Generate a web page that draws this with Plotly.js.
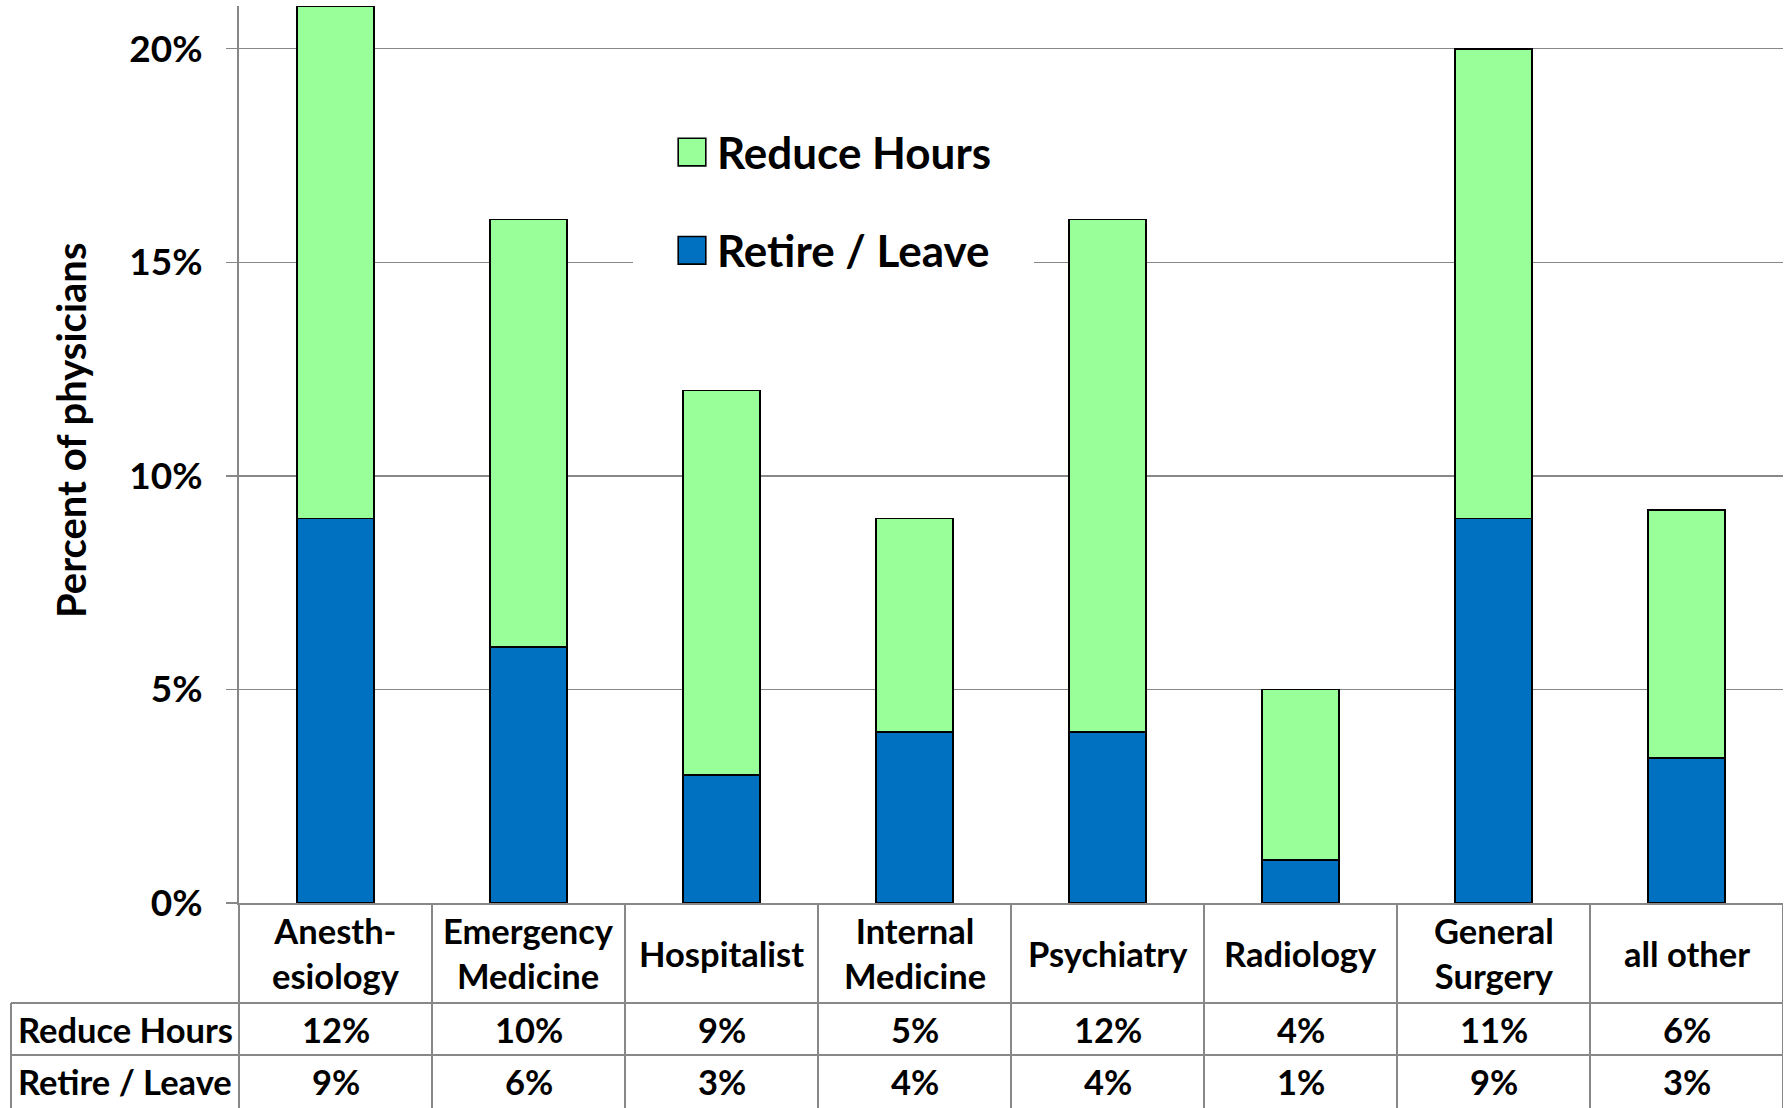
<!DOCTYPE html>
<html>
<head>
<meta charset="utf-8">
<script src="https://cdn.plot.ly/plotly-3.0.1.min.js"></script>
<style>
  html, body { margin: 0; padding: 0; background: #ffffff; }
  #chart { width: 1790px; height: 1108px; }
</style>
</head>
<body>
<div id="chart"></div>
<script>
// ---- data ----
const categories = ['Anesthesiology', 'Emergency Medicine', 'Hospitalist', 'Internal Medicine',
                    'Psychiatry', 'Radiology', 'General Surgery', 'all other'];
const categoryLabels = ['Anesth-<br>esiology', 'Emergency<br>Medicine', 'Hospitalist', 'Internal<br>Medicine',
                        'Psychiatry', 'Radiology', 'General<br>Surgery', 'all other'];
const reduceHours = [12, 10, 9, 5, 12, 4, 11, 5.8];
const retireLeave = [9, 6, 3, 4, 4, 1, 9, 3.4];
const seriesNames = ['Reduce Hours', 'Retire / Leave'];
const yTickValues = [0, 5, 10, 15, 20];
const yTickLabels = ['0%', '5%', '10%', '15%', '20%'];
const yAxisTitle = 'Percent of physicians';

// ---- layout geometry (pixels) ----
const W = 1790, H = 1108;
const M = { l: 239, r: 7, t: 6, b: 205 };
const plotH = H - M.t - M.b;
const plotW = W - M.l - M.r;
const py = p => (H - M.b - p) / plotH;      // pixel y -> paper y
const px = p => (p - M.l) / plotW;          // pixel x -> paper x

const FONT = 'Lato, "Open Sans", sans-serif';
const GRID = '#888888';
const GREEN = '#99ff99';
const BLUE = '#0070c0';

const rowY = [py(1029), py(1081)];
const rowLines = [1003, 1055];
const tableLeft = 11;
const catRowMid = 953;

const traces = [
  {
    type: 'bar', name: seriesNames[1], x: categories, y: retireLeave,
    marker: { color: BLUE, line: { color: '#000000', width: 1.6 } },
    legendgroup: 'retire', legendrank: 2, hoverinfo: 'skip'
  },
  {
    type: 'bar', name: seriesNames[0], x: categories, y: reduceHours,
    marker: { color: GREEN, line: { color: '#000000', width: 1.6 } },
    legendgroup: 'reduce', legendrank: 1, hoverinfo: 'skip'
  }
];

const shapes = [];
const lineStyle = { color: GRID, width: 2 };
// white backdrop of the legend (hides gridlines behind it)
shapes.push({ type: 'rect', xref: 'paper', yref: 'paper', layer: 'above',
  x0: px(633), x1: px(1034), y0: py(300), y1: py(75),
  fillcolor: '#ffffff', line: { width: 0 } });
// y axis line continues down through the table
shapes.push({ type: 'line', xref: 'paper', yref: 'paper', x0: 0, x1: 0, y0: 0, y1: py(H), line: lineStyle });
// category column boundaries
for (let i = 1; i <= categories.length; i++) {
  shapes.push({ type: 'line', xref: 'x', yref: 'paper', x0: i - 0.5, x1: i - 0.5, y0: 0, y1: py(H), line: lineStyle });
}
// horizontal table lines
rowLines.forEach(r => {
  shapes.push({ type: 'line', xref: 'paper', yref: 'paper', x0: px(tableLeft), x1: 1, y0: py(r), y1: py(r), line: lineStyle });
});
// left border of row label column
shapes.push({ type: 'line', xref: 'paper', yref: 'paper', x0: px(tableLeft), x1: px(tableLeft), y0: py(rowLines[0]), y1: py(H), line: lineStyle });

const annotations = [];
const cellFont = { family: FONT, size: 34.5, color: '#000000', weight: 700 };
categories.forEach((c, i) => {
  annotations.push({ xref: 'x', yref: 'paper', x: c, y: py(catRowMid), text: categoryLabels[i],
    showarrow: false, xanchor: 'center', yanchor: 'middle', font: cellFont });
  annotations.push({ xref: 'x', yref: 'paper', x: c, y: rowY[0], text: Math.round(reduceHours[i]) + '%',
    showarrow: false, xanchor: 'center', yanchor: 'middle', font: cellFont });
  annotations.push({ xref: 'x', yref: 'paper', x: c, y: rowY[1], text: Math.round(retireLeave[i]) + '%',
    showarrow: false, xanchor: 'center', yanchor: 'middle', font: cellFont });
});
seriesNames.forEach((n, k) => {
  annotations.push({ xref: 'paper', yref: 'paper', x: px((tableLeft + M.l) / 2), y: rowY[k], text: n,
    showarrow: false, xanchor: 'center', yanchor: 'middle', font: cellFont });
});
// y axis title
annotations.push({ xref: 'paper', yref: 'paper', x: px(71), y: py(431), text: yAxisTitle, textangle: -90,
  showarrow: false, xanchor: 'center', yanchor: 'middle',
  font: { family: FONT, size: 40, color: '#000000', weight: 700 } });

const layout = {
  width: W, height: H,
  margin: { l: M.l, r: M.r, t: M.t, b: M.b, pad: 0 },
  paper_bgcolor: '#ffffff', plot_bgcolor: '#ffffff',
  barmode: 'stack', bargap: 0.6,
  font: { family: FONT, color: '#000000' },
  xaxis: {
    type: 'category', range: [-0.5, categories.length - 0.5],
    showticklabels: false, ticks: '', showgrid: false, zeroline: false,
    showline: true, linecolor: GRID, linewidth: 2, fixedrange: true
  },
  yaxis: {
    range: [0, 21], tickvals: yTickValues, ticktext: yTickLabels,
    ticks: 'outside', ticklen: 11, tickcolor: GRID, tickwidth: 1.5,
    showgrid: true, gridcolor: GRID, gridwidth: 1.5, zeroline: false,
    showline: true, linecolor: GRID, linewidth: 2,
    ticklabelstandoff: 16,
    tickfont: { family: FONT, size: 37, color: '#000000', weight: 700 },
    fixedrange: true
  },
  showlegend: true,
  legend: {
    x: px(667), xanchor: 'left', y: py(117), yanchor: 'top',
    bgcolor: 'rgba(0,0,0,0)', borderwidth: 0,
    traceorder: 'grouped', tracegroupgap: 38, itemwidth: 40,
    font: { family: FONT, size: 44, color: '#000000', weight: 700 }
  },
  shapes: shapes,
  annotations: annotations
};

function enlargeLegendSwatches() {
  document.querySelectorAll('#chart .legend .legendpoints path').forEach(p => {
    if (p.getAttribute('data-scaled')) return;
    const t = p.getAttribute('transform') || '';
    p.setAttribute('transform', t + ' scale(2.3)');
    p.setAttribute('vector-effect', 'non-scaling-stroke');
    p.style.strokeWidth = '1.6px';
    p.style.stroke = '#000000';
    p.setAttribute('data-scaled', '1');
  });
}

Plotly.newPlot('chart', traces, layout, { staticPlot: true, displayModeBar: false })
  .then(gd => { enlargeLegendSwatches(); gd.on && gd.on('plotly_afterplot', enlargeLegendSwatches); });
</script>
</body>
</html>
